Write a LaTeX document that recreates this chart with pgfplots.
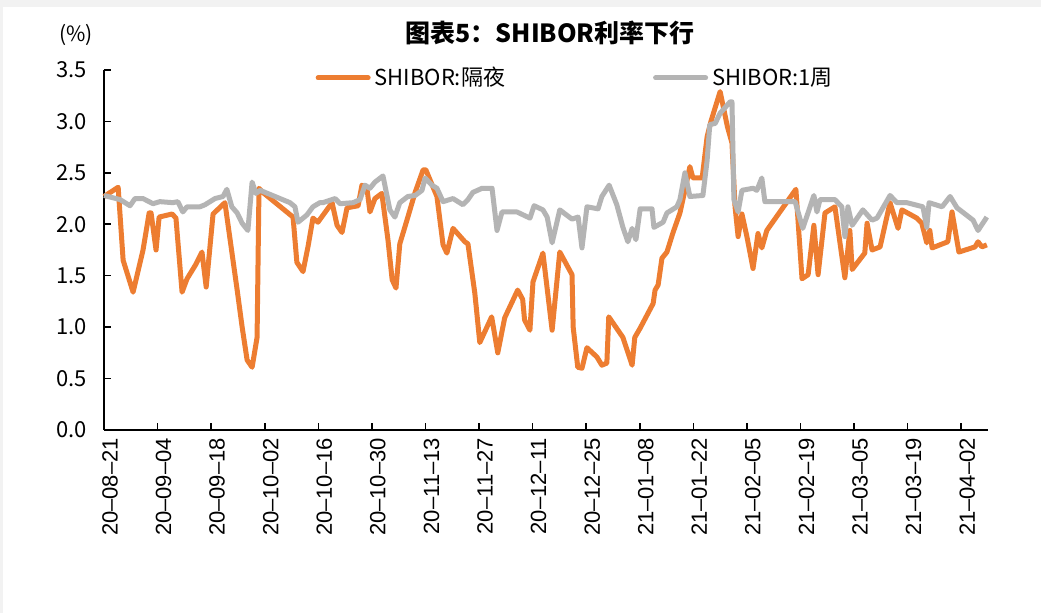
\documentclass[border=0pt]{standalone}
\usepackage{pgfplots}
\pgfplotsset{compat=1.18}
\usepackage{pgfplotstable}
\usepackage{fontspec}
\setmainfont{Liberation Sans}
\newfontfamily\cjk{Noto Sans CJK SC}
\definecolor{shorange}{HTML}{ED7D31}
\definecolor{shgray}{HTML}{B4B4B4}
\pgfplotstableread{
x y
0 2.27
3.7 2.36
5.0 1.65
7.6 1.34
10.2 1.75
11.8 2.11
12.3 2.11
13.6 1.75
14.4 2.07
17.8 2.10
18.8 2.06
20.4 1.34
21.7 1.47
24.0 1.61
25.6 1.73
26.7 1.39
28.5 2.10
31.6 2.21
34.8 1.36
36.1 1.00
37.4 0.68
38.7 0.61
40.0 0.90
40.5 2.35
41.5 2.31
49.4 2.07
50.4 1.63
52.0 1.54
53.3 1.78
54.6 2.06
55.9 2.02
59.6 2.21
60.9 1.99
62.2 1.92
63.5 2.16
66.4 2.18
67.4 2.38
68.7 2.35
69.5 2.12
70.8 2.25
72.6 2.30
74.2 1.85
75.3 1.46
76.3 1.38
77.3 1.81
79.4 2.07
81.3 2.31
83.4 2.53
84.1 2.53
87.0 2.27
88.6 1.80
89.6 1.72
91.2 1.96
94.3 1.83
95.1 1.81
96.9 1.33
98.2 0.85
101.3 1.10
102.9 0.75
104.7 1.09
108.1 1.36
109.4 1.27
109.9 1.07
111.3 0.97
112.1 1.44
114.7 1.72
117.1 0.97
119.1 1.73
122.3 1.51
122.6 1.00
123.8 0.61
124.9 0.60
126.2 0.80
128.8 0.71
130.1 0.63
131.4 0.65
131.9 1.10
135.6 0.90
138.0 0.63
138.7 0.90
140.1 0.99
143.5 1.23
144.0 1.36
144.8 1.41
145.8 1.67
147.1 1.73
148.7 1.92
150.5 2.11
151.8 2.33
153.1 2.56
153.9 2.45
156.3 2.45
157.6 2.85
158.6 3.00
161.0 3.29
162.9 2.95
164.1 2.79
164.9 2.17
165.7 1.88
166.7 2.10
168.0 1.88
169.6 1.57
170.9 1.91
171.9 1.77
173.2 1.94
180.8 2.34
182.4 1.47
184.0 1.51
185.5 1.99
186.6 1.51
188.4 2.11
191.0 2.17
193.6 1.48
194.9 1.94
195.5 1.56
198.8 1.72
199.4 2.01
200.7 1.75
202.8 1.78
205.4 2.21
207.5 1.96
208.5 2.14
212.4 2.06
213.7 2.01
215.0 1.82
215.8 1.94
216.4 1.77
220.5 1.83
221.6 2.12
223.4 1.73
227.6 1.78
228.4 1.83
229.4 1.78
230.7 1.80
}\overnight
\pgfplotstableread{
x y
0 2.28
4.2 2.24
6.8 2.18
8.1 2.25
10.2 2.25
12.8 2.20
14.6 2.22
18.0 2.21
19.3 2.22
20.6 2.12
21.7 2.17
25.1 2.17
26.4 2.19
29.0 2.25
31.1 2.27
32.1 2.34
33.4 2.17
34.8 2.11
36.1 2.01
37.6 1.94
38.7 2.41
39.7 2.30
40.8 2.33
48.6 2.21
49.9 2.17
50.7 2.02
53.0 2.09
54.6 2.17
56.4 2.21
57.2 2.21
60.4 2.25
61.7 2.20
65.1 2.21
66.9 2.24
68.2 2.38
69.5 2.35
70.8 2.41
72.9 2.47
74.7 2.14
76.0 2.07
77.3 2.21
79.4 2.27
81.3 2.28
83.1 2.33
83.9 2.45
85.7 2.38
87.0 2.35
88.6 2.22
91.2 2.25
93.8 2.19
95.1 2.24
96.4 2.31
98.8 2.35
101.4 2.35
102.7 1.94
104.0 2.12
107.9 2.12
111.3 2.06
112.4 2.18
114.7 2.14
115.8 2.07
117.1 1.82
119.1 2.14
122.3 2.05
123.9 2.07
124.9 1.77
126.2 2.17
129.1 2.15
130.1 2.27
132.0 2.38
134.0 2.19
135.6 1.97
136.9 1.83
138.0 1.96
139.0 1.85
140.1 2.15
143.2 2.15
143.7 1.97
146.1 2.02
147.1 2.11
149.7 2.17
150.5 2.24
151.8 2.50
153.1 2.27
156.5 2.28
157.6 2.62
158.3 2.97
159.7 2.98
161.0 3.08
163.6 3.19
164.1 3.19
164.6 2.24
165.7 2.12
166.7 2.33
169.6 2.35
170.6 2.33
171.9 2.45
172.7 2.22
180.6 2.22
182.6 1.96
185.5 2.28
186.3 2.12
187.1 2.24
191.0 2.24
192.8 2.17
193.6 1.88
194.4 2.17
195.5 1.99
198.3 2.14
200.7 2.04
202.0 2.06
205.4 2.28
207.2 2.21
209.8 2.21
214.0 2.17
215.0 1.97
215.6 2.21
219.0 2.17
221.1 2.27
222.9 2.16
227.1 2.04
228.4 1.94
230.7 2.07
}\oneweek
\begin{document}
\begin{tikzpicture}
\useasboundingbox (0,0) rectangle (520.5pt,306.5pt);
\fill[white] (0,0) rectangle (520.5pt,306.5pt);
\fill[black!5] (0,303pt) rectangle (520.5pt,306.5pt);
\fill[black!5] (0,0) rectangle (1.5pt,306.5pt);
\node[font=\cjk\bfseries\fontsize{12.5}{14}\selectfont] at (275pt,290pt) {图表5：SHIBOR利率下行};
\node[font=\cjk\fontsize{10.5}{12}\selectfont, anchor=west] at (26pt,289pt) {(\%)};
\begin{axis}[
  at={(52pt,91.5pt)}, anchor=south west,
  scale only axis, width=442pt, height=180pt,
  xmin=0, xmax=231, ymin=0, ymax=3.5,
  axis x line*=bottom, axis y line*=left,
  axis line style={-, black, line width=1pt},
  tick align=inside, major tick length=3.5pt,
  tick style={black, line width=0.8pt},
  ytick={0,0.5,1,1.5,2,2.5,3,3.5},
  yticklabel style={font=\cjk\fontsize{11}{13}\selectfont, xshift=-5pt,
    /pgf/number format/fixed, /pgf/number format/fixed zerofill,
    /pgf/number format/precision=1, /pgf/number format/assume math mode=true},
  xtick={0,14,...,224},
  xticklabels={20--08--21,20--09--04,20--09--18,20--10--02,20--10--16,20--10--30,20--11--13,20--11--27,20--12--11,20--12--25,21--01--08,21--01--22,21--02--05,21--02--19,21--03--05,21--03--19,21--04--02},
  xticklabel style={font=\fontsize{11}{13}\selectfont, rotate=90, anchor=east, xshift=-0.5pt, yshift=-3pt},
  legend style={draw=none, fill=none, font=\cjk\fontsize{11}{13}\selectfont,
    at={(rel axis cs:0.239,0.978)}, anchor=west, inner sep=0pt,
    /tikz/every even column/.append style={column sep=72pt}},
  legend columns=2,
  legend image code/.code={\draw[#1, line cap=round] (0pt,0pt) -- (25pt,0pt);},
  clip=false,
]
\addplot[shorange, line width=2.5pt, line join=round] table[x=x,y=y] {\overnight};
\addlegendentry{SHIBOR:隔夜}
\addplot[shgray, line width=2.5pt, line join=round] table[x=x,y=y] {\oneweek};
\addlegendentry{SHIBOR:1周}
\end{axis}
\end{tikzpicture}
\end{document}
